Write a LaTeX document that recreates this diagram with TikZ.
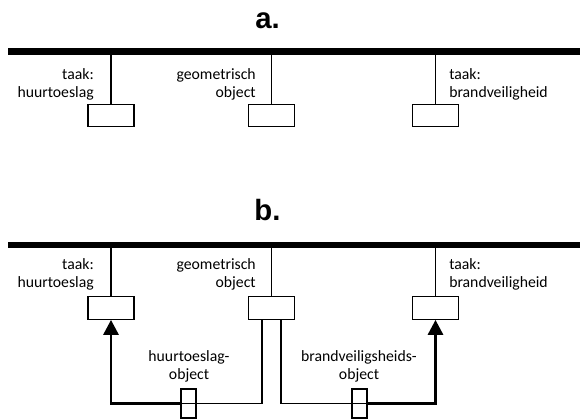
\documentclass[tikz,border=0pt]{standalone}
\usepackage{fontspec}
\setmainfont{Carlito}
\newfontfamily\titlefont{Liberation Sans}
\usetikzlibrary{arrows.meta}
\begin{document}
\begin{tikzpicture}[x=0.75pt,y=-0.75pt,
  bus/.style={line width=5pt},
  stem/.style={line width=0.8pt},
  port/.style={draw, line width=0.9pt, minimum width=34.5pt, minimum height=16.9pt, inner sep=0pt, fill=white},
  pin/.style={draw, line width=0.9pt, minimum width=11.25pt, minimum height=21.75pt, inner sep=0pt},
  link/.style={line width=0.8pt},
  dep/.style={line width=2.2pt, -{Triangle[length=11.25pt,width=11.25pt]}},
  lbl/.style={font=\fontsize{11.8}{13.6}\selectfont, inner sep=0pt},
  title/.style={font=\titlefont\bfseries\fontsize{22}{26}\selectfont, inner sep=0pt, anchor=base}]
\useasboundingbox (0,0) rectangle (580,419);

% ---------- a ----------
\node[title] (ta) at (267.5,28.5) {a.};
\coordinate (busAL) at (8,51.7);
\coordinate (busAR) at (580,51.7);
\node[port] (pA1) at (111,115.5) {};
\node[port] (pA2) at (271.5,115.5) {};
\node[port] (pA3) at (435.5,115.5) {};
\draw[stem] (pA1.north) -- (pA1.north |- busAL);
\draw[stem] (pA2.north) -- (pA2.north |- busAL);
\draw[stem] (pA3.north) -- (pA3.north |- busAL);
\draw[bus] (busAL) -- (busAR);
\node[lbl, anchor=base east] (la1) at (94,79) {\begin{tabular}[t]{@{}r@{}}taak:\\huurtoeslag\end{tabular}};
\node[lbl, anchor=base east] (la2) at (256,79) {\begin{tabular}[t]{@{}r@{}}geometrisch\\object\end{tabular}};
\node[lbl, anchor=base west] (la3) at (449,79) {\begin{tabular}[t]{@{}l@{}}taak:\\brandveiligheid\end{tabular}};

% ---------- b ----------
\node[title] (tb) at (267.5,220) {b.};
\coordinate (busBL) at (8,245);
\coordinate (busBR) at (580,245);
\node[port] (pB1) at (111,308) {};
\node[port] (pB2) at (271.5,308) {};
\node[port] (pB3) at (435.5,308) {};
\draw[stem] (pB1.north) -- (pB1.north |- busBL);
\draw[stem] (pB2.north) -- (pB2.north |- busBL);
\draw[stem] (pB3.north) -- (pB3.north |- busBL);
\draw[bus] (busBL) -- (busBR);
\node[lbl, anchor=base east] (lb1) at (94,269) {\begin{tabular}[t]{@{}r@{}}taak:\\huurtoeslag\end{tabular}};
\node[lbl, anchor=base east] (lb2) at (256,269) {\begin{tabular}[t]{@{}r@{}}geometrisch\\object\end{tabular}};
\node[lbl, anchor=base west] (lb3) at (449,269) {\begin{tabular}[t]{@{}l@{}}taak:\\brandveiligheid\end{tabular}};

\node[pin] (pinL) at (188.5,403.5) {};
\node[pin] (pinR) at (359.5,403.5) {};
\draw[link] ([xshift=-7.125pt]pB2.south) |- (pinL.west);
\draw[link] ([xshift=7.125pt]pB2.south) |- (pinR.east);
\draw[dep] (pinL.west) -| (pB1.south);
\draw[dep] (pinR.east) -| (pB3.south);
\node[lbl, anchor=base] (lh) at (189,361) {\begin{tabular}[t]{@{}c@{}}huurtoeslag-\\object\end{tabular}};
\node[lbl, anchor=base] (lbv) at (359,361) {\begin{tabular}[t]{@{}c@{}}brandveiligsheids-\\object\end{tabular}};
\end{tikzpicture}
\end{document}
